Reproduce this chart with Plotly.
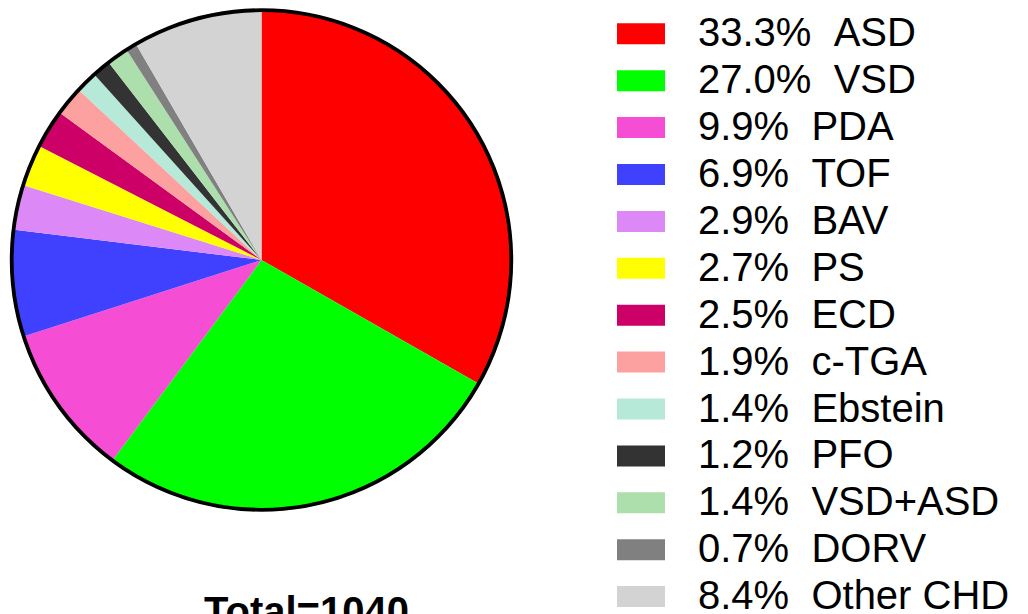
import plotly.graph_objects as go

W, H = 1028, 614
# the page body adds an 8px margin; positions below are window pixels
OX, OY = 8, 8

labels = ["ASD", "VSD", "PDA", "TOF", "BAV", "PS", "ECD", "c-TGA",
          "Ebstein", "PFO", "VSD+ASD", "DORV", "Other CHD"]
percents = [33.3, 27.0, 9.9, 6.9, 2.9, 2.7, 2.5, 1.9, 1.4, 1.2, 1.4, 0.7, 8.4]
colors = ["#FF0000", "#00FF00", "#F54ED5", "#4040FF", "#DD88F7", "#FFFF00",
          "#CC0066", "#FCA19F", "#B6E9D8", "#333333", "#ADDFAD", "#808080",
          "#D3D3D3"]
total_text = "Total=1040"

FONT = "Liberation Sans, Arial, sans-serif"


def px(x):
    return (x - OX) / W


def py(y):
    return (H - (y - OY)) / H


# pie geometry in window pixels
cx, cy, r = 261.5, 260.0, 251.0

fig = go.Figure()
fig.add_trace(go.Pie(
    labels=labels, values=percents, sort=False, direction="clockwise",
    rotation=0, textinfo="none", hoverinfo="label+percent",
    marker=dict(colors=colors, line=dict(width=0)),
    showlegend=False,
    domain=dict(x=[px(cx - r), px(cx + r)], y=[py(cy + r), py(cy - r)]),
))

shapes = []
annotations = []

# outer border
rb = r - 1.2
shapes.append(dict(type="circle", xref="paper", yref="paper",
                   x0=px(cx - rb), x1=px(cx + rb),
                   y0=py(cy + rb), y1=py(cy - rb),
                   line=dict(color="black", width=3.8), layer="above"))

# legend
row0, dy = 33.8, 46.9
for i, (lab, p, c) in enumerate(zip(labels, percents, colors)):
    yc = row0 + dy * i
    shapes.append(dict(type="rect", xref="paper", yref="paper",
                       x0=px(617), x1=px(665),
                       y0=py(yc + 10.5), y1=py(yc - 10.5),
                       fillcolor=c, line=dict(width=0)))
    annotations.append(dict(
        xref="paper", yref="paper", x=px(696), y=py(yc - 1.5),
        xanchor="left", yanchor="middle", showarrow=False,
        text=f"{p:.1f}%\u00a0\u00a0{lab}",
        font=dict(family=FONT, size=40, color="black")))

annotations.append(dict(
    xref="paper", yref="paper", x=px(306), y=py(611),
    xanchor="center", yanchor="middle", showarrow=False,
    text=f"<b>{total_text}</b>",
    font=dict(family=FONT, size=40, color="black")))

fig.update_layout(
    width=W, height=H, margin=dict(l=0, r=0, t=0, b=0),
    paper_bgcolor="white", plot_bgcolor="white",
    shapes=shapes, annotations=annotations,
)

fig.write_html("out.html")
